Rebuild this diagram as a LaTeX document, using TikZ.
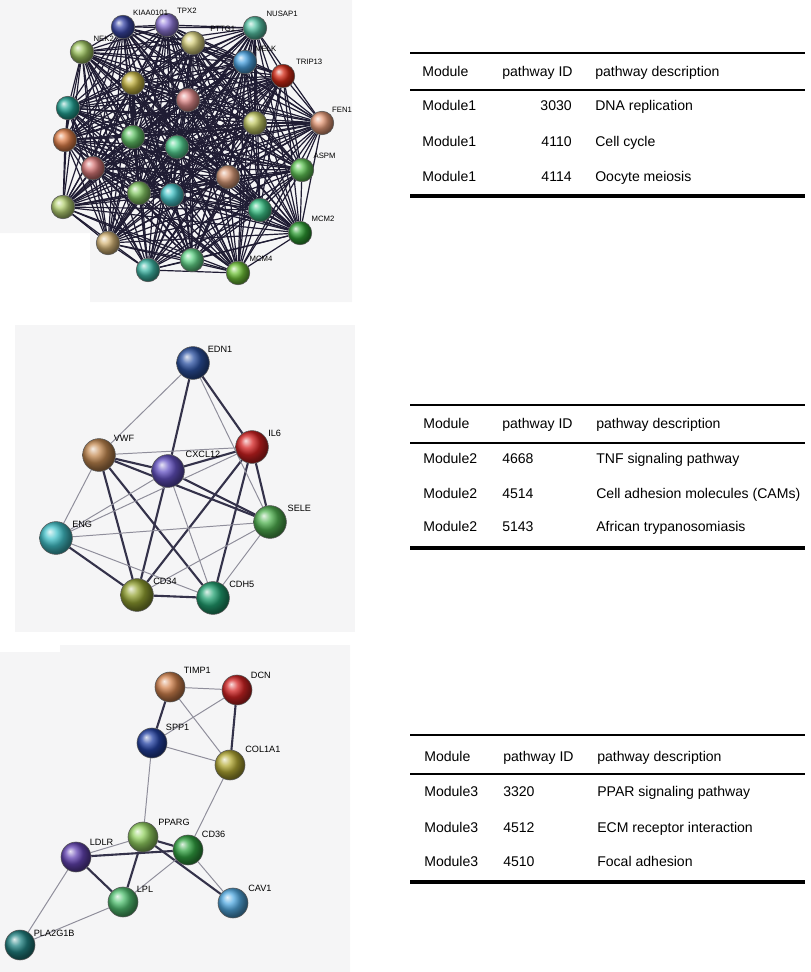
\documentclass[tikz,border=0pt]{standalone}
\usepackage{fontspec}
\setmainfont{Liberation Sans}
\usetikzlibrary{positioning,backgrounds}
\definecolor{edgecol}{HTML}{34324A}
\definecolor{meshcol}{HTML}{1F1C33}
\definecolor{panelcol}{HTML}{F5F5F6}
\tikzset{gene node/.style={circle,draw=black!65,line width=0.4pt,minimum size=0.59cm,inner sep=0pt},
  big gene/.style={gene node,minimum size=0.82cm},
  mid gene/.style={gene node,minimum size=0.75cm},
  gene label/.style={inner sep=0pt,font=\fontsize{6.5}{7}\selectfont},
  tiny label/.style={inner sep=0pt,font=\fontsize{5.5}{6}\selectfont},
  mesh edge/.style={draw=meshcol,line width=0.85pt},
  strong edge/.style={draw=edgecol,line width=1.5pt},
  weak edge/.style={draw=edgecol!55,line width=0.7pt},
  cell/.style={inner sep=0pt,anchor=west,font=\fontsize{10}{12}\selectfont,text height=1.5ex,text depth=.25ex},
}

\begin{document}
\begin{tikzpicture}[x=0.025cm,y=-0.025cm]
	\useasboundingbox (0,0) rectangle (810,972);
	\begin{pgfonlayer}{background}
		\fill[panelcol] (0,0) -- (352,0) -- (352,302) -- (90,302) -- (90,233) -- (0,233) -- cycle;
		\fill[panelcol] (15,325) rectangle (355,632);
		\fill[panelcol] (60,645) -- (350,645) -- (350,972) -- (0,972) -- (0,652) -- (60,652) -- cycle;
	\end{pgfonlayer}

	% module 1
	\foreach \n/\x/\y/\c in {1/123/27/3A47A8, 2/167/25/8F78D8, 3/193/43/D6CF7E, 4/255/28/55C2A4,
		5/82/52/9CC25E, 6/245/62/4AA2E0, 7/283/76/D42A16, 8/133/83/C4B443, 9/188/100/E08A8A,
		10/68/108/23A394, 11/322/123/E59A78, 12/255/123/C2C965, 13/65/140/E0804A, 14/133/137/62C468,
		15/177/147/55D494, 16/302/170/5FC455, 17/93/168/D87878, 18/228/177/D89A78, 19/139/193/84C864,
		20/172/195/45C4C8, 21/63/207/B4D072, 22/260/210/3CC488, 23/300/233/2F9F34, 24/108/243/D4B476,
		25/148/270/3FB8A6, 26/192/260/62D488, 27/238/273/6FC238}{
		\definecolor{genecol}{HTML}{\c}
		\node[gene node,ball color=genecol] (a\n) at (\x,\y) {};
	}
	\node[tiny label] (kiaa) [above right=2pt and 1pt of a1] {KIAA0101};
	\node[tiny label] (tpx2) [above right=2pt and 1pt of a2] {TPX2};
	\node[tiny label] (pttg) [above right=1.5pt and 6pt of a3] {PTTG1};
	\node[tiny label] (nusap) [above right=1.5pt and 2pt of a4] {NUSAP1};
	\node[tiny label] (nek2) [above right=1.5pt and 2pt of a5] {NEK2};
	\node[tiny label] (melk) [above right=1.5pt and 1pt of a6] {MELK};
	\node[tiny label] (trip) [above right=1.5pt and 3pt of a7] {TRIP13};
	\node[tiny label] (fen1) [above right=1.5pt and 1pt of a11] {FEN1};
	\node[tiny label] (aspm) [above right=1.5pt and 2pt of a16] {ASPM};
	\node[tiny label] (mcm2) [above right=1.5pt and 2pt of a23] {MCM2};
	\node[tiny label] (mcm4) [above right=1.5pt and 2pt of a27] {MCM4};
	\begin{pgfonlayer}{background}
		\foreach \i in {1,...,26}{
			\pgfmathtruncatemacro\nxt{\i+1}
			\foreach \j in {\nxt,...,27} \draw[mesh edge] (a\i) -- (a\j);
		}
	\end{pgfonlayer}

	% module 2
	\definecolor{c-edn1}{HTML}{2C52A2}
	\definecolor{c-il6}{HTML}{D42222}
	\definecolor{c-vwf}{HTML}{C48A52}
	\definecolor{c-cxcl}{HTML}{6452C4}
	\definecolor{c-sele}{HTML}{52B452}
	\definecolor{c-eng}{HTML}{42C2CA}
	\definecolor{c-cd34}{HTML}{93A232}
	\definecolor{c-cdh5}{HTML}{22A272}
	\node[big gene,ball color=c-edn1] (edn1) at (193,363) {};
	\node[big gene,ball color=c-il6] (il6) at (252,447) {};
	\node[big gene,ball color=c-vwf] (vwf) at (99,455) {};
	\node[big gene,ball color=c-cxcl] (cxcl12) at (168,471) {};
	\node[big gene,ball color=c-sele] (sele) at (270,522) {};
	\node[big gene,ball color=c-eng] (eng) at (56,538) {};
	\node[big gene,ball color=c-cd34] (cd34) at (137,595) {};
	\node[big gene,ball color=c-cdh5] (cdh5) at (213,598) {};
	\node[gene label] (edn1l) [above right=-1pt and 2pt of edn1] {EDN1};
	\node[gene label] (il6l) [above right=-1pt and 3pt of il6] {IL6};
	\node[gene label] (vwfl) [above right=1pt and 2pt of vwf] {VWF};
	\node[gene label] (cxcl12l) [above right=1pt and 4pt of cxcl12] {CXCL12};
	\node[gene label] (selel) [above right=-1pt and 4pt of sele] {SELE};
	\node[gene label] (engl) [above right=-1pt and 3pt of eng] {ENG};
	\node[gene label] (cd34l) [above right=-1pt and 3pt of cd34] {CD34};
	\node[gene label] (cdh5l) [above right=-1pt and 3pt of cdh5] {CDH5};
	\begin{pgfonlayer}{background}
		\path[strong edge]
		(edn1) edge (cxcl12)
		(edn1) edge (il6)
		(vwf) edge (cxcl12)
		(vwf) edge (cd34)
		(vwf) edge (cdh5)
		(vwf) edge (sele)
		(cxcl12) edge (il6)
		(cxcl12) edge (sele)
		(cxcl12) edge (cd34)
		(il6) edge (cd34)
		(il6) edge (sele)
		(il6) edge (cdh5)
		(eng) edge (cd34)
		(cd34) edge (cdh5);
		\path[weak edge]
		(edn1) edge (vwf)
		(edn1) edge (sele)
		(vwf) edge (eng)
		(vwf) edge (il6)
		(cxcl12) edge (eng)
		(cxcl12) edge (cdh5)
		(il6) edge (eng)
		(sele) edge (eng)
		(sele) edge (cd34)
		(sele) edge (cdh5)
		(eng) edge (cdh5);
	\end{pgfonlayer}

	% module 3
	\definecolor{c-timp}{HTML}{D4844F}
	\definecolor{c-dcn}{HTML}{D42424}
	\definecolor{c-spp1}{HTML}{2442A4}
	\definecolor{c-col}{HTML}{B4AA34}
	\definecolor{c-pparg}{HTML}{94D262}
	\definecolor{c-cd36}{HTML}{32A442}
	\definecolor{c-ldlr}{HTML}{6444B4}
	\definecolor{c-lpl}{HTML}{52C272}
	\definecolor{c-cav1}{HTML}{52AAE2}
	\definecolor{c-pla}{HTML}{228484}
	\node[mid gene,ball color=c-timp] (timp1) at (170,687) {};
	\node[mid gene,ball color=c-dcn] (dcn) at (237,690) {};
	\node[mid gene,ball color=c-spp1] (spp1) at (152,743) {};
	\node[mid gene,ball color=c-col] (col1a1) at (230,765) {};
	\node[mid gene,ball color=c-pparg] (pparg) at (143,837) {};
	\node[mid gene,ball color=c-cd36] (cd36) at (188,850) {};
	\node[mid gene,ball color=c-ldlr] (ldlr) at (76,857) {};
	\node[mid gene,ball color=c-lpl] (lpl) at (123,902) {};
	\node[mid gene,ball color=c-cav1] (cav1) at (233,903) {};
	\node[mid gene,ball color=c-pla] (pla2g1b) at (20,945) {};
	\node[gene label] (timp1l) [above right=2pt and 2pt of timp1] {TIMP1};
	\node[gene label] (dcnl) [above right=0pt and 2pt of dcn] {DCN};
	\node[gene label] (spp1l) [above right=1pt and 2pt of spp1] {SPP1};
	\node[gene label] (col1a1l) [above right=1pt and 3pt of col1a1] {COL1A1};
	\node[gene label] (ppargl) [above right=0pt and 3pt of pparg] {PPARG};
	\node[gene label] (cd36l) [above right=1pt and 2pt of cd36] {CD36};
	\node[gene label] (ldlrl) [above right=0pt and 2pt of ldlr] {LDLR};
	\node[gene label] (lpll) [above right=-1pt and 2pt of lpl] {LPL};
	\node[gene label] (cav1l) [above right=0pt and 3pt of cav1] {CAV1};
	\node[gene label] (pla2g1bl) [above right=-2pt and 2pt of pla2g1b] {PLA2G1B};
	\begin{pgfonlayer}{background}
		\path[strong edge]
		(timp1) edge (spp1)
		(dcn) edge (col1a1)
		(pparg) edge (cd36)
		(pparg) edge (lpl)
		(pparg) edge (cav1)
		(ldlr) edge (cd36)
		(ldlr) edge (lpl);
		\path[weak edge]
		(timp1) edge (dcn)
		(timp1) edge (col1a1)
		(dcn) edge (spp1)
		(spp1) edge (col1a1)
		(spp1) edge (pparg)
		(col1a1) edge (cd36)
		(pparg) edge (ldlr)
		(cd36) edge (lpl)
		(cd36) edge (cav1)
		(ldlr) edge (pla2g1b)
		(lpl) edge (pla2g1b);
	\end{pgfonlayer}

	% tables
	\draw[line width=1.8pt] (410,53) -- (805,53);
	\draw[line width=1pt] (410,90) -- (805,90);
	\draw[line width=2.5pt] (410,196) -- (805,196);
	\node[cell] (t1h1) at (422,72) {Module};
	\node[cell] (t1h2) at (502,72) {pathway ID};
	\node[cell] (t1h3) at (595,72) {pathway description};
	\foreach \y/\m/\id/\d [count=\k] in {106/Module1/3030/DNA replication, 142/Module1/4110/Cell cycle, 177/Module1/4114/Oocyte meiosis}{
		\node[cell] (t1m\k) at (422,\y) {\m};
		\node[cell,anchor=east] (t1i\k) at (572,\y) {\id};
		\node[cell] (t1d\k) at (595,\y) {\d};
	}

	\draw[line width=1.8pt] (410,405) -- (805,405);
	\draw[line width=1pt] (410,443) -- (805,443);
	\draw[line width=2.5pt] (410,548) -- (805,548);
	\node[cell] (t2h1) at (423,424) {Module};
	\node[cell] (t2h2) at (502,424) {pathway ID};
	\node[cell] (t2h3) at (596,424) {pathway description};
	\foreach \y/\m/\id/\d [count=\k] in {459/Module2/4668/TNF signaling pathway, 494/Module2/4514/Cell adhesion molecules (CAMs), 527/Module2/5143/African trypanosomiasis}{
		\node[cell] (t2m\k) at (423,\y) {\m};
		\node[cell] (t2i\k) at (502,\y) {\id};
		\node[cell] (t2d\k) at (596,\y) {\d};
	}

	\draw[line width=1.8pt] (410,735) -- (805,735);
	\draw[line width=1pt] (410,774) -- (805,774);
	\draw[line width=2.5pt] (410,882) -- (805,882);
	\node[cell] (t3h1) at (424,757) {Module};
	\node[cell] (t3h2) at (503,757) {pathway ID};
	\node[cell] (t3h3) at (597,757) {pathway description};
	\foreach \y/\m/\id/\d [count=\k] in {792/Module3/3320/PPAR signaling pathway, 828/Module3/4512/ECM receptor interaction, 862/Module3/4510/Focal adhesion}{
		\node[cell] (t3m\k) at (424,\y) {\m};
		\node[cell] (t3i\k) at (503,\y) {\id};
		\node[cell] (t3d\k) at (597,\y) {\d};
	}
\end{tikzpicture}
\end{document}
